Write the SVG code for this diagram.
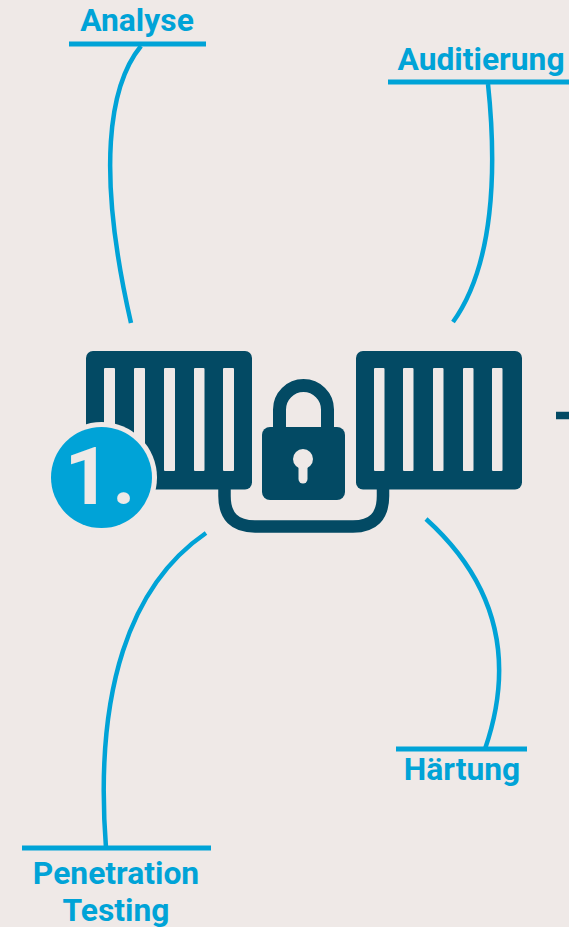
<svg xmlns="http://www.w3.org/2000/svg" width="569" height="927" viewBox="0 0 569 927">
<style>
.t{font-family:Roboto,"Liberation Sans",sans-serif;font-weight:700;font-size:31.8px;fill:#00a3d7;text-anchor:middle}
.l{fill:none;stroke:#00a3d7;stroke-width:4.5}
.u{fill:none;stroke:#00a3d7;stroke-width:5}
.d{fill:#034a64}
.w{fill:#efe9e7}
</style>
<rect width="569" height="927" fill="#efe9e7"/>
<g id="connectors">
<path class="l" d="M141 46C109 85 96 170 131 323"/>
<path class="l" d="M488 84C497 170 494 265 453 322"/>
<path class="l" d="M206 533C130 585 94 690 106 848"/>
<path class="l" d="M426 519C488 575 519 650 485 749"/>
</g>
<g id="analyse"><text class="t" x="137" y="31">Analyse</text><path class="u" d="M69 44H206"/></g>
<g id="auditierung"><text class="t" x="481" y="70">Auditierung</text><path class="u" d="M388 82H569"/></g>
<g id="penetration"><path class="u" d="M22 848H211"/><text class="t" x="116" y="884">Penetration</text><text class="t" x="116" y="921">Testing</text></g>
<g id="haertung"><path class="u" d="M396 749H527"/><text class="t" x="462" y="780">Härtung</text></g>
<g id="lock">
<rect class="d" x="86" y="351" width="166" height="138.500" rx="7"/>
<rect class="d" x="356" y="351" width="166" height="138.500" rx="7"/>
<g class="w">
<rect x="104" y="368" width="11" height="103" rx="1"/><rect x="134" y="368" width="11" height="103" rx="1"/><rect x="164" y="368" width="11" height="103" rx="1"/><rect x="194" y="368" width="10.500" height="103" rx="1"/><rect x="223" y="368" width="11" height="103" rx="1"/>
<rect x="374" y="368" width="10.500" height="103" rx="1"/><rect x="403" y="368" width="10.500" height="103" rx="1"/><rect x="433" y="368" width="10.500" height="103" rx="1"/><rect x="463" y="368" width="10.500" height="103" rx="1"/><rect x="492" y="368" width="10.500" height="103" rx="1"/>
</g>
<path d="M224.500 488V496Q224.500 526.500 255 526.500H353Q383 526.500 383 496V488" fill="none" stroke="#034a64" stroke-width="12.500"/>
<path d="M279.500 432V409.500A24 24 0 0 1 327.500 409.500V432" fill="none" stroke="#034a64" stroke-width="13"/>
<rect class="d" x="262" y="427" width="83" height="73" rx="8"/>
<circle class="w" cx="303" cy="459" r="10"/>
<rect class="w" x="298.500" y="462" width="9" height="21.500" rx="4.500"/>
</g>
<g id="badge">
<circle cx="101.500" cy="477.500" r="55.500" fill="#efe9e7"/>
<circle cx="101.500" cy="477.500" r="50.500" fill="#00a3d7"/>
<text x="100" y="504" font-family="Roboto,'Liberation Sans',sans-serif" font-weight="700" font-size="80" fill="#efe9e7" text-anchor="middle">1<tspan dx="2">.</tspan></text>
</g>
<path id="fragment" d="M556 415.500H569" stroke="#034a64" stroke-width="7.500" fill="none"/>
</svg>
